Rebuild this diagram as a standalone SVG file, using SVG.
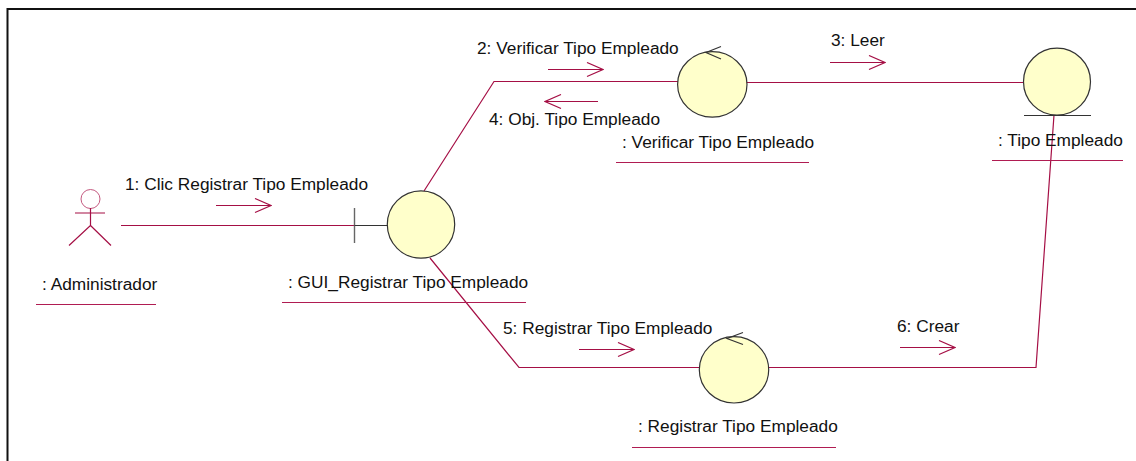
<svg xmlns="http://www.w3.org/2000/svg" width="1136" height="461" viewBox="0 0 1136 461">
<style>
text{font-family:"Liberation Sans",Arial,sans-serif;font-size:17.3px;fill:#111}
.c{fill:none;stroke:#a50f45;stroke-width:1.2}
.u{fill:none;stroke:#b01c52;stroke-width:1.2}
.o{fill:#ffffcb;stroke:#333;stroke-width:1.2}
.k{fill:none;stroke:#333;stroke-width:1.2}
.g{fill:none;stroke:#666;stroke-width:1.4}
</style>
<defs>
<marker id="ah" markerUnits="userSpaceOnUse" markerWidth="18" markerHeight="16" refX="17" refY="8" orient="auto"><path d="M1 1 L17 8 L1 15" fill="none" stroke="#a50f45" stroke-width="1.2"/></marker>
</defs>
<rect x="0" y="0" width="1136" height="461" fill="#fff"/>
<path d="M7.500 461 V9 H1136" fill="none" stroke="#111" stroke-width="2"/>
<g id="connectors">
<path class="c" d="M121 225.500 H388"/>
<path class="c" d="M424 191 L494 81.500 H678"/>
<path class="c" d="M746 82.500 H1024"/>
<path class="c" d="M430 258 L519 367.500 H700"/>
<path class="c" d="M768 367.500 H1036 L1054 115"/>
<path class="c" marker-end="url(#ah)" d="M216 205.500 H271"/>
<path class="c" marker-end="url(#ah)" d="M548 69.500 H603"/>
<path class="c" marker-end="url(#ah)" d="M598 101.500 H545"/>
<path class="c" marker-end="url(#ah)" d="M830 62.500 H885"/>
<path class="c" marker-end="url(#ah)" d="M579 349.500 H634"/>
<path class="c" marker-end="url(#ah)" d="M900 347.500 H955"/>
</g>
<g id="administrador">
<circle cx="90.500" cy="199" r="9.500" fill="#fff" stroke="#c4597f" stroke-width="1"/>
<path class="c" d="M75 213 H105 M90.500 208 V225.500 L69 245.500 M90.500 225.500 L111 245.500"/>
<text x="42" y="290">: Administrador</text>
<path class="u" d="M36 304.500 H156"/>
</g>
<g id="gui-registrar">
<path class="g" d="M354.500 208 V243"/>
<path class="k" d="M354.500 225.500 H388"/>
<circle class="o" cx="421" cy="224.500" r="33.700"/>
<text x="288" y="288">: GUI_Registrar Tipo Empleado</text>
<path class="u" d="M282 302.500 H526"/>
</g>
<g id="verificar">
<ellipse class="o" cx="712.300" cy="84.400" rx="34.700" ry="32.800"/>
<path class="k" d="M721 46.500 L706 52.500 L721 59"/>
<text x="622" y="148">: Verificar Tipo Empleado</text>
<path class="u" d="M616 162.500 H809"/>
</g>
<g id="tipo-empleado">
<circle class="o" cx="1057" cy="81.700" r="33.500"/>
<path class="k" d="M1024 115.500 H1091"/>
<text x="998" y="146">: Tipo Empleado</text>
<path class="u" d="M992 160.500 H1123"/>
</g>
<g id="registrar">
<ellipse class="o" cx="734" cy="369.800" rx="34.700" ry="33.200"/>
<path class="k" d="M743 332.500 L727 338.500 L743 344.500"/>
<text x="638" y="432">: Registrar Tipo Empleado</text>
<path class="u" d="M632 447.500 H836"/>
</g>
<g id="labels">
<text x="125" y="190">1: Clic Registrar Tipo Empleado</text>
<text x="477" y="54">2: Verificar Tipo Empleado</text>
<text x="831" y="46">3: Leer</text>
<text x="489" y="125">4: Obj. Tipo Empleado</text>
<text x="503" y="334">5: Registrar Tipo Empleado</text>
<text x="897" y="332">6: Crear</text>
</g>
</svg>
